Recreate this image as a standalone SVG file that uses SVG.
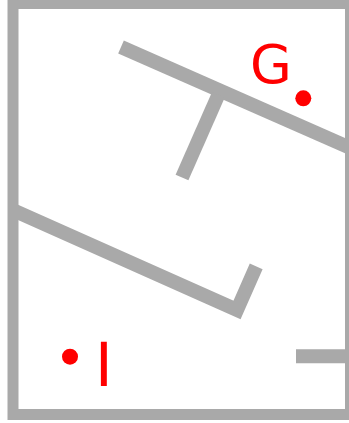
<svg xmlns="http://www.w3.org/2000/svg" width="349" height="423" viewBox="0 0 349 423">
<style>
.wall{fill:none;stroke:#a9a9a9;stroke-width:14;stroke-linecap:butt;stroke-linejoin:miter}
.border{fill:none;stroke:#a9a9a9;stroke-width:11}
.lbl{fill:#ff0000;font-family:"DejaVu Sans",sans-serif}
.pt{fill:#ff0000}
</style>
<rect width="349" height="423" fill="#ffffff"/>
<g id="walls">
<line class="wall" x1="121" y1="47" x2="360" y2="152.2"/>
<line class="wall" x1="218.3" y1="95" x2="182" y2="177.5"/>
<polyline class="wall" points="13,210.2 237,310 256.2,266.4"/>
<line class="wall" x1="296" y1="356.3" x2="350" y2="356.3"/>
</g>
<rect class="border" x="13" y="3.5" width="337.5" height="411"/>
<g id="goal">
<text class="lbl" x="250" y="82.5" font-size="54">G</text>
<circle class="pt" cx="303.3" cy="98.3" r="8"/>
</g>
<g id="init">
<circle class="pt" cx="70" cy="356.7" r="8"/>
<text class="lbl" x="95" y="386" font-size="60">I</text>
</g>
</svg>
